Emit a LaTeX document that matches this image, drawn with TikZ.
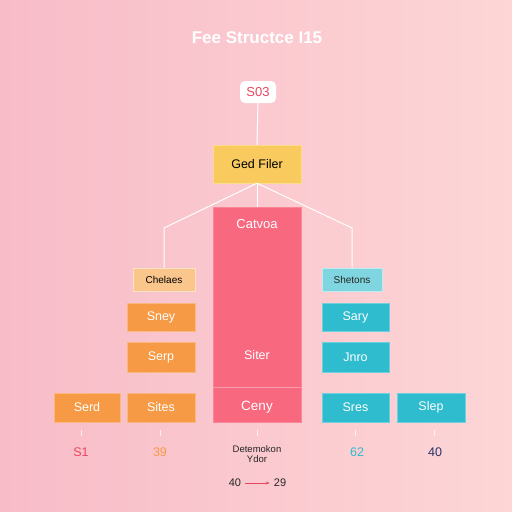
\documentclass[tikz,border=0pt]{standalone}
\usepackage{fontspec}
\setmainfont{Liberation Sans}
\usetikzlibrary{arrows.meta}
\definecolor{bgl}{HTML}{F8BCC8}
\definecolor{bgr}{HTML}{FDD6D6}
\definecolor{pinkbox}{HTML}{F8687F}
\definecolor{orangebox}{HTML}{F79A46}
\definecolor{cyanbox}{HTML}{2FBCCE}
\definecolor{yellowbox}{HTML}{F9CB5F}
\definecolor{lorange}{HTML}{FAC68B}
\definecolor{lcyan}{HTML}{7FD5E0}
\definecolor{redtxt}{HTML}{E8465E}
\definecolor{navy}{HTML}{27336B}
\tikzset{
  box/.style={rectangle, inner sep=0pt, font=\fontsize{12.5}{14}\selectfont},
  obox/.style={box, fill=orangebox, draw=orangebox!70!white, line width=0.6pt, text=white, minimum width=68pt, minimum height=29pt},
  cbox/.style={box, fill=cyanbox, draw=cyanbox!70!white, line width=0.6pt, text=white, minimum width=67pt, minimum height=29pt},
  conn/.style={draw=white, line width=1pt},
  tick/.style={draw=white, line width=0.8pt, opacity=0.7},
  lab/.style={font=\fontsize{12.5}{14}\selectfont}
}
\begin{document}
\begin{tikzpicture}[x=1pt,y=-1pt]
\useasboundingbox (0,0) rectangle (512,512);
\shade[left color=bgl, right color=bgr] (0,0) rectangle (512,512);
% title
\node[text=white, font=\bfseries\fontsize{17}{20}\selectfont] (title) at (257,38) {Fee Structce I15};
% top
\node[box, fill=white, rounded corners=5pt, minimum width=36pt, minimum height=22pt, text=redtxt, font=\fontsize{13}{15}\selectfont] (s03) at (258,92) {S03};
\node[box, fill=yellowbox, draw=yellowbox!70!white, minimum width=88pt, minimum height=38pt, text=black] (ged) at (257,164) {Ged Filer};
% big pink box
\node[box, fill=pinkbox, draw=pinkbox!80!white, line width=0.6pt, minimum width=88pt, minimum height=215pt] (cat) at (257,314.5) {};
\node[box, text=white, font=\fontsize{13}{15}\selectfont] (catl) at (257,224) {Catvoa};
\node[box, text=white] (siter) at (257,355) {Siter};
\node[box, text=white, font=\fontsize{13.5}{15}\selectfont] (ceny) at (257,407) {Ceny};
\coordinate (dl) at (213.5,387);
\coordinate (dr) at (300.5,387);
\draw[draw=white, opacity=0.35, line width=0.6pt] (dl) -- (dr);
% second level
\node[box, fill=lorange, draw=lorange!50!white, line width=0.8pt, minimum width=62pt, minimum height=23pt, text=black, font=\fontsize{10}{12}\selectfont] (che) at (164,279.5) {Chelaes};
\node[box, fill=lcyan, draw=lcyan!50!white, line width=0.8pt, minimum width=60pt, minimum height=23pt, text=black!85, font=\fontsize{10}{12}\selectfont] (she) at (352,279.5) {Shetons};
% connectors
\coordinate (jl) at (164,228);
\coordinate (jr) at (352,228);
\draw[conn] (s03.south) -- (ged.north);
\draw[conn] (ged.south) -- (jl) -- (che.north);
\draw[conn] (ged.south) -- (jr) -- (she.north);
\draw[conn] (ged.south) -- (cat.north);
% orange column
\node[obox, minimum height=28pt] (sney) at (161,317) {Sney};
\node[obox, minimum height=30pt] (serp) at (161,357) {Serp};
\node[obox] (sites) at (161,407.5) {Sites};
\node[obox, minimum width=66pt] (serd) at (87,407.5) {Serd};
% cyan column
\node[cbox, minimum height=28pt] (sary) at (355.5,317) {Sary};
\node[cbox, minimum height=30pt] (jnro) at (355.5,357) {Jnro};
\node[cbox] (sres) at (355.5,407.5) {Sres};
\node[cbox, minimum width=68pt] (slep) at (431,407.5) {Slep};
% ticks
\foreach \n/\x in {t1/81, t2/160, t3/257, t4/355, t5/434} {
  \coordinate (\n a) at (\x,430);
  \coordinate (\n b) at (\x,436);
  \draw[tick] (\n a) -- (\n b);
}
% bottom labels
\node[lab, text=redtxt] (l1) at (81,452) {S1};
\node[lab, text=orangebox] (l2) at (160,452) {39};
\node[lab, text=cyanbox] (l4) at (357,452) {62};
\node[lab, text=navy] (l5) at (435,452) {40};
\node[font=\fontsize{9.5}{11}\selectfont, text=black!85, align=center, inner sep=0pt] (det) at (257,454) {Detemokon\\[-1pt]Ydor};
\node[font=\fontsize{11}{13}\selectfont, text=black!85, inner sep=1pt] (a40) at (235,483) {40};
\node[font=\fontsize{11}{13}\selectfont, text=black!85, inner sep=1pt] (a29) at (280,483) {29};
\draw[draw=redtxt, line width=0.7pt, -{Stealth[length=4pt,width=3pt]}] ([xshift=3pt]a40.east) -- ([xshift=-3pt]a29.west);
\end{tikzpicture}
\end{document}
